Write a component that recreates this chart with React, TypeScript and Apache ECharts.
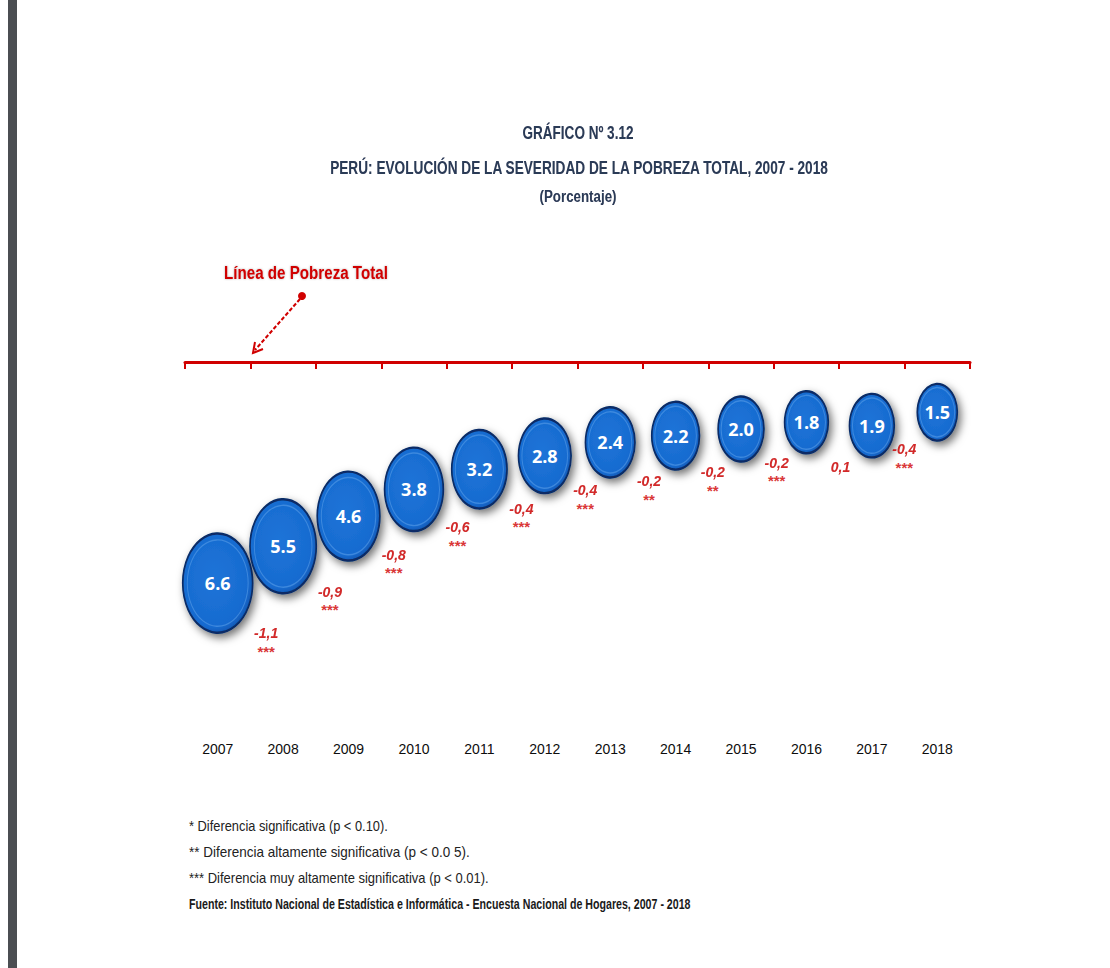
import React, { useEffect, useRef } from "react";
import * as echarts from "echarts";

const years = ["2007", "2008", "2009", "2010", "2011", "2012", "2013", "2014", "2015", "2016", "2017", "2018"];
const severity = [6.6, 5.5, 4.6, 3.8, 3.2, 2.8, 2.4, 2.2, 2.0, 1.8, 1.9, 1.5];
const change: (number | null)[] = [null, -1.1, -0.9, -0.8, -0.6, -0.4, -0.4, -0.2, -0.2, -0.2, 0.1, -0.4];
const significance = ["", "***", "***", "***", "***", "***", "***", "**", "**", "***", "", "***"];

const titleLines = [
  "GRÁFICO Nº 3.12",
  "PERÚ: EVOLUCIÓN DE LA SEVERIDAD DE LA POBREZA TOTAL, 2007 - 2018",
  "(Porcentaje)",
];
const annotationText = "Línea de Pobreza Total";
const footnotes = [
  "* Diferencia significativa (p < 0.10).",
  "** Diferencia altamente significativa (p < 0.0 5).",
  "*** Diferencia muy altamente significativa (p < 0.01).",
];
const sourceText = "Fuente: Instituto Nacional de Estadística e Informática - Encuesta Nacional de Hogares, 2007 - 2018";

const SANS = "'Liberation Sans', Arial, sans-serif";
const RED = "#d00000";
const TITLE = "#2c3a57";

const bubbleW = (v: number) => 31.8 + 20.2 * Math.log(v);
const bubbleSize = (v: number, k = 1) => [bubbleW(v) * k, bubbleW(v) * 1.42 * k];
const fmtChange = (v: number) => (v < 0 ? "-" : "") + Math.abs(v).toFixed(1).replace(".", ",");

let measureCtx: CanvasRenderingContext2D | null = null;
const fitScale = (text: string, font: string, target: number) => {
  if (!measureCtx) measureCtx = document.createElement("canvas").getContext("2d");
  if (!measureCtx) return 1;
  measureCtx.font = font;
  const w = measureCtx.measureText(text).width;
  return w > 0 ? target / w : 1;
};

const fittedText = (
  text: string,
  x: number,
  y: number,
  font: string,
  width: number,
  fill: string,
  align: "left" | "center",
  extra: any = {}
) => ({
  type: "text",
  x,
  y,
  scaleX: fitScale(text, font, width),
  style: { text, fill, font, textAlign: align, textVerticalAlign: "middle", ...extra },
});

export default function App() {
  const ref = useRef<HTMLDivElement>(null);
  useEffect(() => {
    if (!ref.current) return;
    const chart = echarts.init(ref.current, null, { renderer: "svg" });
    const pts = severity.map((v, i) => [i, v]);

    const changeData = change
      .map((c, i) => {
        if (c === null) return null;
        const v = severity[i];
        const dx = -17 - 1.6 * (i - 1);
        const dy = 20 + 12.5 * v + 6;
        return {
          value: [i, v],
          label: {
            offset: [dx, dy],
            formatter: `{c|${fmtChange(c)}}\n{s|${significance[i] || " "}}`,
          },
        };
      })
      .filter((d) => d !== null);

    const option: any = {
      animation: false,
      backgroundColor: "#ffffff",
      grid: { left: 185, right: 140, top: 362, height: 368.5 },
      xAxis: [
        {
          type: "category",
          data: years,
          position: "top",
          axisLine: { show: true, onZero: false, lineStyle: { color: RED, width: 3 } },
          axisTick: { show: true, inside: true, length: 7, lineStyle: { color: RED, width: 2 } },
          axisLabel: { show: false },
          splitLine: { show: false },
        },
        {
          type: "category",
          data: years,
          position: "bottom",
          axisLine: { show: false, onZero: false },
          axisTick: { show: false },
          axisLabel: { show: true, color: "#0d0d0d", fontSize: 14, fontFamily: SANS, margin: 11 },
          splitLine: { show: false },
        },
      ],
      yAxis: { type: "value", min: 0, max: 11, inverse: true, show: false },
      series: [
        {
          type: "scatter",
          xAxisIndex: 0,
          data: pts,
          symbol: "circle",
          symbolSize: (val: number[]) => bubbleSize(val[1]),
          itemStyle: {
            opacity: 1,
            color: {
              type: "radial",
              x: 0.45,
              y: 0.45,
              r: 0.6,
              colorStops: [
                { offset: 0, color: "#1e74d8" },
                { offset: 0.82, color: "#176bd0" },
                { offset: 1, color: "#0c4ea4" },
              ],
            },
            borderColor: "#072c66",
            borderWidth: 2,
            shadowBlur: 8,
            shadowColor: "rgba(0,0,0,0.55)",
            shadowOffsetX: 3,
            shadowOffsetY: 4,
          },
          z: 2,
        },
        {
          type: "scatter",
          xAxisIndex: 0,
          data: pts,
          symbol: "circle",
          symbolSize: (val: number[]) => bubbleSize(val[1], 0.87),
          itemStyle: {
            opacity: 1,
            color: "rgba(0,0,0,0)",
            borderColor: "rgba(100,165,235,0.5)",
            borderWidth: 1.2,
          },
          label: {
            show: true,
            position: "inside",
            formatter: (p: any) => p.value[1].toFixed(1),
            color: "#ffffff",
            fontSize: 18,
            fontWeight: "bold",
            fontFamily: "'Open Sans', 'DejaVu Sans', sans-serif",
          },
          z: 3,
        },
        {
          type: "scatter",
          xAxisIndex: 0,
          data: changeData,
          symbol: "circle",
          symbolSize: 1,
          itemStyle: { color: "rgba(0,0,0,0)" },
          label: {
            show: true,
            position: "inside",
            rich: {
              c: {
                color: RED,
                fontSize: 14,
                fontWeight: "bold",
                fontStyle: "italic",
                fontFamily: SANS,
                lineHeight: 20,
                textShadowColor: "rgba(0,0,0,0.25)",
                textShadowBlur: 1.5,
              },
              s: {
                color: RED,
                fontSize: 15,
                fontWeight: "bold",
                fontFamily: SANS,
                lineHeight: 16,
              },
            },
          },
          z: 4,
        },
      ],
      graphic: [
        { type: "rect", shape: { x: 8, y: 0, width: 9, height: 968 }, style: { fill: "#4b4e52" }, silent: true },
        fittedText(titleLines[0], 578, 132, `bold 19px ${SANS}`, 111, TITLE, "center", { textShadowColor: "rgba(0,0,0,0.2)", textShadowBlur: 1 }),
        fittedText(titleLines[1], 579, 168, `bold 19px ${SANS}`, 500, TITLE, "center", { textShadowColor: "rgba(0,0,0,0.2)", textShadowBlur: 1 }),
        fittedText(titleLines[2], 578, 196, `bold 17px ${SANS}`, 77, TITLE, "center", { textShadowColor: "rgba(0,0,0,0.2)", textShadowBlur: 1 }),
        fittedText(annotationText, 306, 272, `bold 19px ${SANS}`, 164, RED, "center", {
          textShadowColor: "rgba(0,0,0,0.3)",
          textShadowBlur: 2,
        }),
        { type: "circle", shape: { cx: 302, cy: 296, r: 4 }, style: { fill: RED } },
        {
          type: "line",
          shape: { x1: 300, y1: 299, x2: 255, y2: 350 },
          style: { stroke: RED, lineWidth: 2, lineDash: [4, 2] },
        },
        {
          type: "polyline",
          shape: { points: [[255, 342], [253, 353], [263, 349]] },
          style: { stroke: RED, lineWidth: 2, fill: "none" },
        },
        fittedText(footnotes[0], 189, 826, `15px ${SANS}`, 199, "#222222", "left"),
        fittedText(footnotes[1], 189, 852, `15px ${SANS}`, 281, "#222222", "left"),
        fittedText(footnotes[2], 189, 878, `15px ${SANS}`, 300, "#222222", "left"),
        fittedText(sourceText, 189, 904, `bold 14px ${SANS}`, 502, "#1a1a1a", "left"),
      ],
    };
    chart.setOption(option);
    return () => chart.dispose();
  }, []);
  return <div ref={ref} style={{ position: "fixed", left: 0, top: 0, width: 1110, height: 968 }} />;
}
